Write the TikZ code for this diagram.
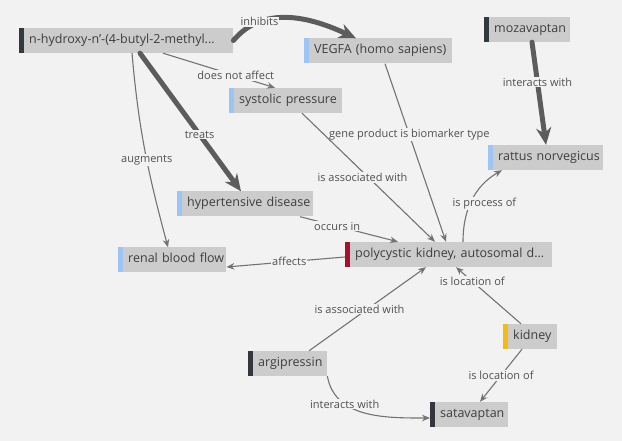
\documentclass[tikz,border=0pt]{standalone}
\usepackage{fontspec}
\setmainfont{Open Sans}
\usepackage{tikz}
\usetikzlibrary{calc}
\usetikzlibrary{arrows.meta}
\usetikzlibrary{positioning}
\definecolor{paper}{RGB}{242, 242, 242}
\definecolor{boxgray}{RGB}{204, 204, 204}
\definecolor{ink}{RGB}{62, 62, 62}
\definecolor{labelink}{RGB}{80, 80, 80}
\definecolor{wire}{RGB}{115, 115, 115}
\definecolor{heavywire}{RGB}{92, 92, 92}
\definecolor{slate}{RGB}{50, 56, 62}
\definecolor{skyblue}{RGB}{156, 196, 245}
\definecolor{crimson}{RGB}{165, 16, 44}
\definecolor{amber}{RGB}{245, 187, 20}

\tikzset{
  term/.style 2 args={fill=boxgray, text=ink, anchor=west, minimum height=25pt,
    inner xsep=5pt, inner ysep=0pt, text width=#2, align=left,
    text height=9pt, text depth=3pt, font=\fontsize{12.5}{15}\selectfont,
    execute at begin node={\hspace*{5pt}\hbox\bgroup},
    execute at end node={\egroup},
    path picture={\fill[#1] (path picture bounding box.south west) rectangle ([xshift=5pt]path picture bounding box.north west);}},
  rel/.style={draw=wire, line width=1.1pt, -{Stealth[length=8pt, width=6.5pt]}},
  strong/.style={draw=heavywire, line width=5pt, line cap=round, -{Stealth[length=17pt, width=15pt]}},
  lab/.style={fill=paper, text=labelink, inner sep=1pt, font=\fontsize{11}{13}\selectfont},
}

\begin{document}
\begin{tikzpicture}[x=1pt, y=1pt]
    \useasboundingbox (0,0) rectangle (622,441);
    \fill[paper] (0,0) rectangle (622,441);

    \node[term={slate}{204pt}]   (hyd)   at ( 19, 400.5) {n-hydroxy-n'-(4-butyl-2-methyl...};
    \node[term={skyblue}{138pt}] (vegfa) at (304, 390.0) {VEGFA (homo sapiens)};
    \node[term={slate}{76pt}]    (moza)  at (484, 411.5) {mozavaptan};
    \node[term={skyblue}{103pt}] (sys)   at (229, 340.5) {systolic pressure};
    \node[term={skyblue}{105pt}] (rat)   at (488, 283.5) {rattus norvegicus};
    \node[term={skyblue}{126pt}] (hyp)   at (177, 237.0) {hypertensive disease};
    \node[term={skyblue}{98pt}]  (renal) at (118, 181.0) {renal blood flow};
    \node[term={crimson}{197pt}] (pkd)   at (345, 186.5) {polycystic kidney, autosomal d...};
    \node[term={amber}{44pt}]    (kid)   at (503, 104.5) {kidney};
    \node[term={slate}{69pt}]    (argi)  at (248,  77.5) {argipressin};
    \node[term={slate}{68pt}]    (sata)  at (430,  26.5) {satavaptan};

    \draw[strong] (hyd.east) to[out=50, in=155] node[lab, pos=0.25] {inhibits} ([xshift=52pt]vegfa.north west);
    \draw[rel] ([xshift=144pt]hyd.south west) -- node[lab, pos=0.65] {does not affect} ([xshift=46pt]sys.north west);
    \draw[strong] ([xshift=121pt]hyd.south west) -- node[lab, pos=0.59] {treats} ([xshift=64pt]hyp.north west);
    \draw[rel] ([xshift=113pt]hyd.south west) to[out=-85, in=105] node[lab, pos=0.55] {augments} ([xshift=50pt]renal.north west);
    \draw[strong] ([xshift=48pt]moza.south west) -- node[lab, pos=0.39] {interacts with} ([xshift=58pt]rat.north west);
    \draw[rel] ([xshift=81pt]vegfa.south west) -- node[lab, pos=0.4] {gene product is biomarker type} ([xshift=101pt]pkd.north west);
    \draw[rel] ([xshift=73pt]sys.south west) -- node[lab, pos=0.5, xshift=-6pt] {is associated with} ([xshift=90pt]pkd.north west);
    \draw[rel] ([xshift=123pt]hyp.south west) -- node[lab, pos=0.38] {occurs in} ([xshift=53pt]pkd.north west);
    \draw[rel] ([yshift=-2.5pt]pkd.west) -- node[lab, pos=0.47] {affects} ([yshift=-7pt]renal.east);
    \draw[rel] ([xshift=118pt]pkd.north west) to[out=90, in=210] node[lab, pos=0.45, xshift=14pt] {is process of} ([xshift=14pt]rat.south west);
    \draw[rel] ([xshift=18pt]kid.north west) -- node[lab, pos=0.75] {is location of} ([xshift=111pt]pkd.south west);
    \draw[rel] ([xshift=61pt]argi.north west) -- node[lab, pos=0.5, xshift=-8pt] {is associated with} ([xshift=81pt]pkd.south west);
    \draw[rel] ([xshift=19pt]kid.south west) -- node[lab, pos=0.5] {is location of} ([xshift=50pt]sata.north west);
    \draw[rel] (argi.south east) to[out=-80, in=180] node[lab, pos=0.3] {interacts with} ([yshift=-3.5pt]sata.west);
\end{tikzpicture}
\end{document}
